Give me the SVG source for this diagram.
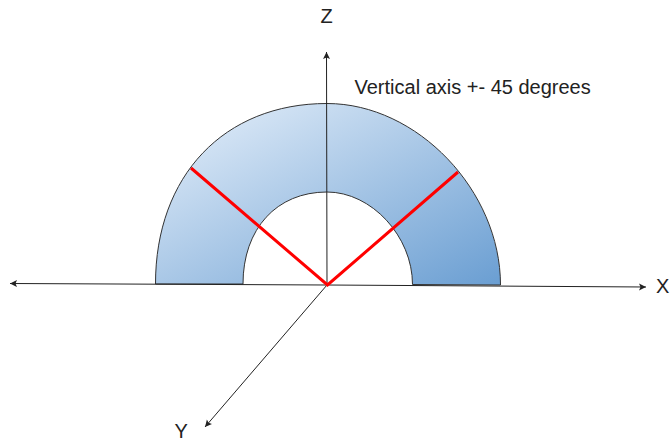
<svg xmlns="http://www.w3.org/2000/svg" width="670" height="441" viewBox="0 0 670 441">
<style>
.axis{fill:none;stroke:#222;stroke-width:1;marker-end:url(#arrow)}
.red{fill:none;stroke:#f00;stroke-width:3}
text{font-family:"Liberation Sans",Arial,sans-serif;font-size:20px;fill:#222}
</style>
<defs>
<linearGradient id="g" x1="0" y1="0" x2="1" y2="1">
<stop offset="0" stop-color="#e8f1fb"/><stop offset="1" stop-color="#6a9ed2"/>
</linearGradient>
<marker id="arrow" markerUnits="userSpaceOnUse" markerWidth="10" markerHeight="8" refX="7" refY="3.5" orient="auto">
<path d="M0,0L7,3.5L0,7L1.5,3.5Z" fill="#222"/>
</marker>
</defs>
<g id="arch"><path d="M155.5,284C155.5,175.700 224.100,103.500 327,103.500C417.200,103.500 500.500,190.600 500.500,285L412.500,284.500C412.500,236.400 371.500,192 327,192C276.600,192 243,228.800 243,284Z" fill="url(#g)" stroke="#333" stroke-width="1"/></g>
<g id="connectors">
<path class="axis" d="M327,285L10,283.500"/>
<path class="axis" d="M327,285L646,287"/>
<path class="axis" d="M327,285L326.500,52"/>
<path class="axis" d="M327,285L205,427"/>
<path class="red" d="M191,168L327.500,285L458,172"/>
</g>
<g id="labels">
<text x="320.500" y="23">Z</text>
<text x="656" y="293">X</text>
<text x="174.500" y="438">Y</text>
<text x="354.500" y="94">Vertical axis +- 45 degrees</text>
</g>
</svg>
